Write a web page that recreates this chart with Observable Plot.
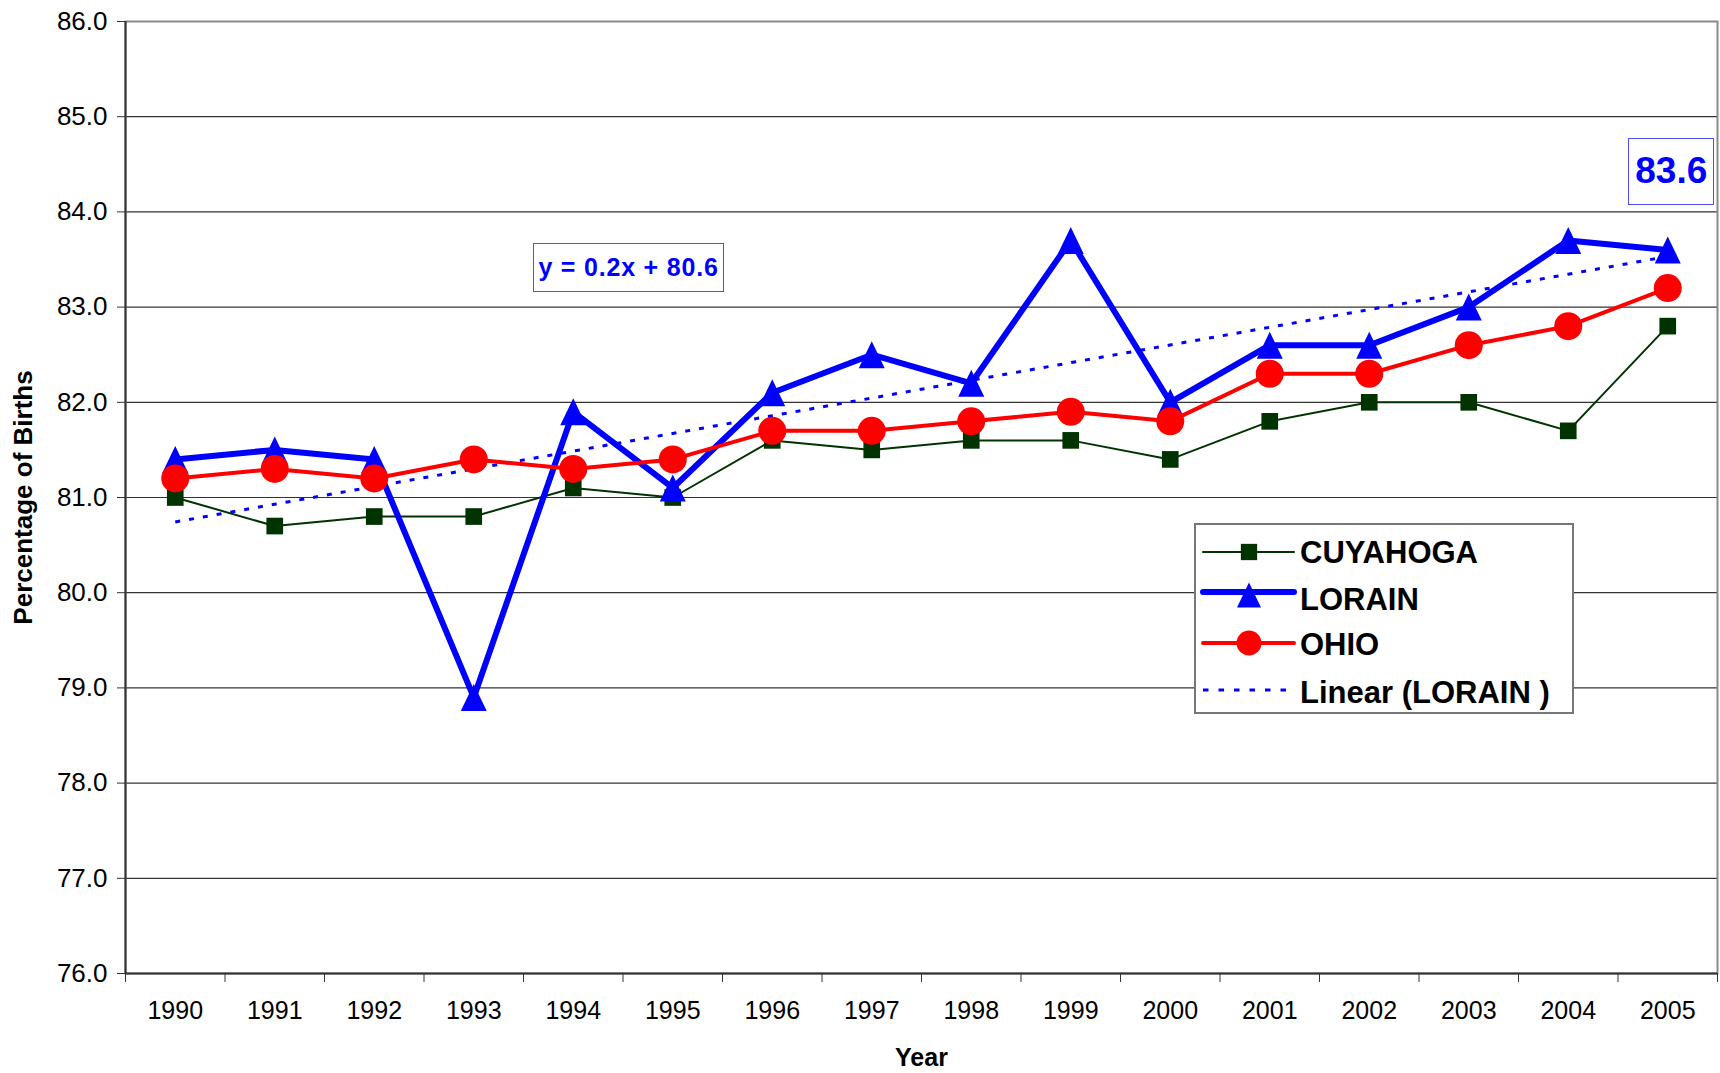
<!DOCTYPE html>
<html>
<head>
<meta charset="utf-8">
<script src="https://cdn.jsdelivr.net/npm/d3@7"></script>
<script src="https://cdn.jsdelivr.net/npm/@observablehq/plot@0.6"></script>
<style>
  html, body { margin: 0; padding: 0; background: #fff; }
  body { font-family: "Liberation Sans", Arial, sans-serif; }
  #wrap { position: relative; width: 1720px; height: 1073px; overflow: hidden; }
  #wrap svg { display: block; }
  .box { position: absolute; background: #fff; box-sizing: border-box; color: #0000ff; font-weight: bold;
         font-family: "Liberation Sans", Arial, sans-serif;
         display: flex; align-items: center; justify-content: center; white-space: nowrap; }
  #legend { position: absolute; background: #fff; box-sizing: border-box; border: 2px solid #777; }
</style>
</head>
<body>
<div id="wrap"></div>
<script>
// ---------- data ----------
const years = [1990, 1991, 1992, 1993, 1994, 1995, 1996, 1997, 1998, 1999, 2000, 2001, 2002, 2003, 2004, 2005];
const cuyahoga = [81.0, 80.7, 80.8, 80.8, 81.1, 81.0, 81.6, 81.5, 81.6, 81.6, 81.4, 81.8, 82.0, 82.0, 81.7, 82.8];
const lorain   = [81.4, 81.5, 81.4, 78.9, 81.9, 81.1, 82.1, 82.5, 82.2, 83.7, 82.0, 82.6, 82.6, 83.0, 83.7, 83.6];
const ohio     = [81.2, 81.3, 81.2, 81.4, 81.3, 81.4, 81.7, 81.7, 81.8, 81.9, 81.8, 82.3, 82.3, 82.6, 82.8, 83.2];
const yTicks = [76, 77, 78, 79, 80, 81, 82, 83, 84, 85, 86];
const seriesNames = ["CUYAHOGA", "LORAIN", "OHIO"];
const trendName = "Linear (LORAIN )";
const yLabel = "Percentage of Births";
const xLabel = "Year";

// ---------- derived ----------
const toRows = (vals) => years.map((yr, i) => ({year: yr, value: vals[i]}));
const cRows = toRows(cuyahoga), lRows = toRows(lorain), oRows = toRows(ohio);

// Excel-style linear trendline on LORAIN (x = 1..n)
const idx = years.map((_, i) => i + 1);
const mx = d3.mean(idx), my = d3.mean(lorain);
const slope = d3.sum(idx, (x, i) => (x - mx) * (lorain[i] - my)) / d3.sum(idx, x => (x - mx) ** 2);
const intercept = my - slope * mx;
const trendRows = years.map((yr, i) => ({year: yr, value: intercept + slope * (i + 1)}));

const x0 = years[0] - 0.5, x1 = years[years.length - 1] + 0.5;
const boundaries = d3.range(years.length + 1).map(i => x0 + i);

// custom triangle (slightly taller than wide, centered on the point)
const triangle = {
  draw(ctx, size) {
    const r = Math.sqrt(size / Math.PI);
    const w = r, h = r * 1.04;
    ctx.moveTo(0, -h); ctx.lineTo(w, h); ctx.lineTo(-w, h); ctx.closePath();
  }
};

const font = "'Liberation Sans', Arial, sans-serif";
const chart = Plot.plot({
  width: 1720, height: 1073,
  marginLeft: 125, marginRight: 3, marginTop: 21, marginBottom: 100,
  style: {fontFamily: font, background: "#fff", color: "#000"},
  x: {type: "linear", domain: [x0, x1]},
  y: {domain: [yTicks[0], yTicks[yTicks.length - 1]]},
  marks: [
    Plot.gridY(yTicks, {stroke: "#000", strokeOpacity: 0.8, strokeWidth: 1.2}),
    Plot.frame({stroke: "#8a8a8a", strokeWidth: 2}),
    Plot.axisY(yTicks, {tickFormat: d => d.toFixed(1), tickSize: 8, tickPadding: 10, fontSize: 26, label: null, stroke: "#333"}),
    Plot.axisX(years, {tickSize: 0, tickPadding: 28, fontSize: 25, label: null, tickFormat: d => String(d)}),
    Plot.axisX(boundaries, {tickSize: 9, tickFormat: () => "", label: null, stroke: "#333"}),
    Plot.ruleX([x0], {stroke: "#333", strokeWidth: 2}),
    Plot.ruleY([yTicks[0]], {stroke: "#333", strokeWidth: 2}),
    Plot.line(trendRows, {x: "year", y: "value", stroke: "#0000ff", strokeWidth: 3, strokeDasharray: "5,9", strokeLinecap: "butt"}),
    Plot.line(cRows, {x: "year", y: "value", stroke: "#003300", strokeWidth: 2}),
    Plot.dot(cRows, {x: "year", y: "value", symbol: "square", r: 9.4, fill: "#003300", stroke: "none"}),
    Plot.line(lRows, {x: "year", y: "value", stroke: "#0000ff", strokeWidth: 6}),
    Plot.dot(lRows, {x: "year", y: "value", symbol: triangle, r: 13, fill: "#0000ff", stroke: "none"}),
    Plot.line(oRows, {x: "year", y: "value", stroke: "#ff0000", strokeWidth: 4}),
    Plot.dot(oRows, {x: "year", y: "value", symbol: "circle", r: 14, fill: "#ff0000", stroke: "none"}),
    Plot.text([xLabel], {frameAnchor: "bottom", dy: 84, fontSize: 25, fontWeight: "bold", textAnchor: "middle", lineAnchor: "middle", fill: "#000"}),
    Plot.text([yLabel], {frameAnchor: "left", dx: -102, rotate: -90, fontSize: 26, fontWeight: "bold", textAnchor: "middle", lineAnchor: "middle", fill: "#000"})
  ]
});

const wrap = document.getElementById("wrap");
wrap.appendChild(chart);

// ---------- annotations ----------
const xs = chart.scale("x"), ys = chart.scale("y");

const eq = document.createElement("div");
eq.className = "box";
eq.textContent = `y = ${slope.toFixed(1)}x + ${intercept.toFixed(1)}`;
Object.assign(eq.style, {left: "533px", top: "243px", width: "191px", height: "49px",
  border: "1.5px solid #4d4dff", fontSize: "25px", letterSpacing: "0.8px"});
wrap.appendChild(eq);

const lastVal = lorain[lorain.length - 1];
const lastX = xs.apply(years[years.length - 1]);
const lastY = ys.apply(lastVal);
const lab = document.createElement("div");
lab.className = "box";
lab.textContent = lastVal.toFixed(1);
Object.assign(lab.style, {left: (lastX + 4 - 43) + "px", top: (lastY - 78 - 33.5) + "px", width: "86px", height: "67px",
  border: "1.5px solid #4d4dff", fontSize: "37px"});
wrap.appendChild(lab);

// ---------- legend ----------
const legend = document.createElement("div");
legend.id = "legend";
Object.assign(legend.style, {left: "1194px", top: "523px", width: "380px", height: "191px"});
wrap.appendChild(legend);
const lsvg = d3.select(legend).append("svg").attr("width", 376).attr("height", 187)
  .style("position", "absolute").style("left", "0px").style("top", "0px");
const items = [
  {name: seriesNames[0], lineY: 27, textY: 38, stroke: "#003300", sw: 2, sym: d3.symbolSquare, size: 16.3 * 16.3, symY: 27, fill: "#003300"},
  {name: seriesNames[1], lineY: 67, textY: 85, stroke: "#0000ff", sw: 6, sym: triangle, size: Math.PI * 12 * 12, symY: 70, fill: "#0000ff"},
  {name: seriesNames[2], lineY: 118, textY: 130, stroke: "#ff0000", sw: 4, sym: d3.symbolCircle, size: Math.PI * 12.5 * 12.5, symY: 118, fill: "#ff0000"},
  {name: trendName, lineY: 165, textY: 178, stroke: "#0000ff", sw: 3, dash: "5.5,10", sym: null}
];
items.forEach(it => {
  lsvg.append("line").attr("x1", 7).attr("x2", 98).attr("y1", it.lineY).attr("y2", it.lineY)
    .attr("stroke", it.stroke).attr("stroke-width", it.sw)
    .attr("stroke-linecap", it.dash ? "butt" : "round")
    .attr("stroke-dasharray", it.dash || null);
  if (it.sym) {
    lsvg.append("path").attr("d", d3.symbol(it.sym, it.size)())
      .attr("transform", `translate(53,${it.symY})`).attr("fill", it.fill);
  }
  lsvg.append("text").attr("x", 104).attr("y", it.textY).text(it.name)
    .attr("font-family", font).attr("font-weight", "bold").attr("font-size", 31).attr("fill", "#000");
});
</script>
</body>
</html>
